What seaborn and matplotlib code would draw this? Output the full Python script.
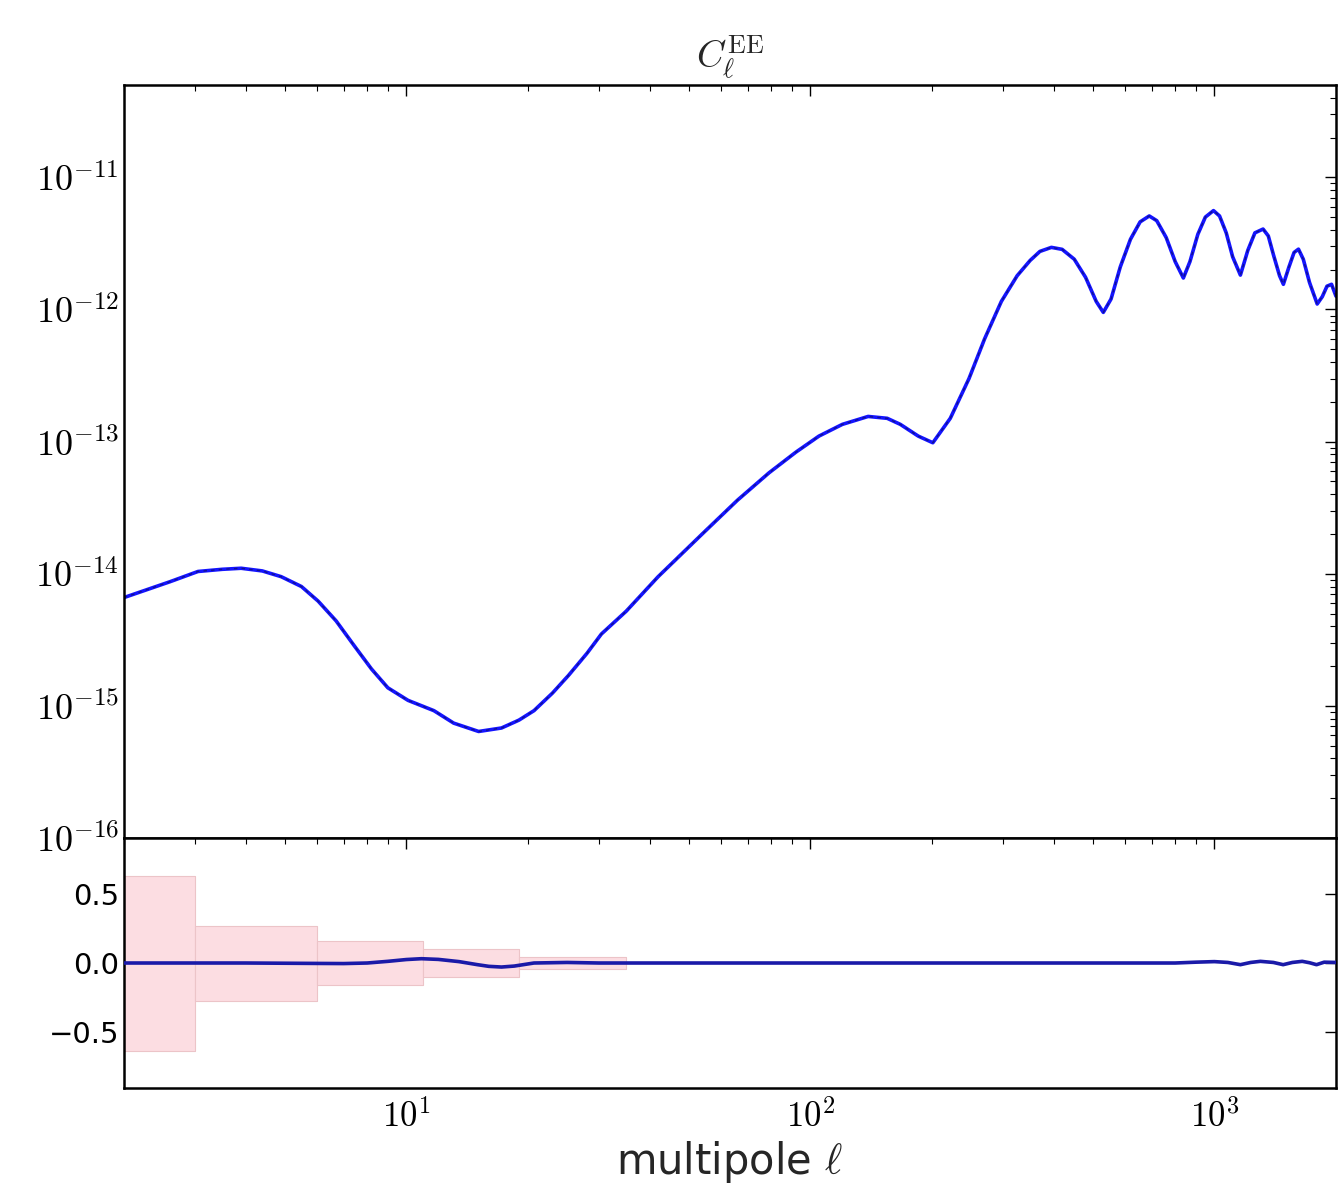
import numpy as np
import pandas as pd
import matplotlib
matplotlib.use("Agg")
import matplotlib.pyplot as plt
from matplotlib.ticker import FuncFormatter, LogLocator
import seaborn as sns

# ---------------- data ----------------
ell = [2, 2.6, 3.05, 3.5, 3.9, 4.4, 4.9, 5.5, 6.05, 6.7, 7.4, 8.2, 9.0, 10.1,
       11.7, 13.1, 15.1, 17.2, 19.0, 20.7, 23.0, 25.2, 28.0, 30.4, 35, 42, 54,
       66, 79, 92, 105, 120, 139, 155, 167, 185, 201, 222, 247, 270, 297,
       325, 350, 370, 395, 420, 450, 480, 510, 531, 555, 585, 620, 655, 690,
       720, 760, 800, 838, 870, 910, 950, 995, 1030, 1070, 1110, 1160, 1210,
       1260, 1320, 1360, 1400, 1450, 1482, 1530, 1575, 1615, 1660, 1720,
       1797, 1850, 1900, 1950, 2000]
cl_ee = [6.6e-15, 8.7e-15, 1.04e-14, 1.08e-14, 1.1e-14, 1.05e-14, 9.5e-15,
         8.0e-15, 6.2e-15, 4.4e-15, 2.9e-15, 1.9e-15, 1.37e-15, 1.1e-15,
         9.2e-16, 7.4e-16, 6.4e-16, 6.8e-16, 7.8e-16, 9.2e-16, 1.25e-15,
         1.7e-15, 2.5e-15, 3.5e-15, 5.2e-15, 9.5e-15, 2.0e-14, 3.6e-14,
         5.8e-14, 8.3e-14, 1.1e-13, 1.35e-13, 1.55e-13, 1.5e-13, 1.35e-13,
         1.1e-13, 9.8e-14, 1.5e-13, 3.0e-13, 6.0e-13, 1.15e-12, 1.8e-12,
         2.35e-12, 2.75e-12, 2.95e-12, 2.85e-12, 2.4e-12, 1.75e-12, 1.15e-12,
         9.5e-13, 1.2e-12, 2.1e-12, 3.4e-12, 4.6e-12, 5.1e-12, 4.7e-12,
         3.5e-12, 2.3e-12, 1.73e-12, 2.3e-12, 3.7e-12, 5.0e-12, 5.6e-12,
         5.1e-12, 3.8e-12, 2.5e-12, 1.82e-12, 2.8e-12, 3.8e-12, 4.06e-12,
         3.6e-12, 2.6e-12, 1.8e-12, 1.55e-12, 2.1e-12, 2.7e-12, 2.86e-12,
         2.4e-12, 1.6e-12, 1.1e-12, 1.25e-12, 1.5e-12, 1.55e-12, 1.26e-12]

res_ell = [2, 4, 6, 7, 8, 9, 10, 10.9, 12, 13.5, 15, 16, 17.2, 18.5, 20.7,
           25, 30, 50, 100, 300, 800, 900, 1000, 1080, 1160, 1230, 1300,
           1400, 1480, 1560, 1650, 1720, 1790, 1870, 2000]
res_val = [0.0, 0.0, -0.003, -0.004, 0.0, 0.012, 0.025, 0.031, 0.026, 0.01,
           -0.012, -0.024, -0.029, -0.022, 0.0, 0.004, 0.0, 0.0, 0.0, 0.0,
           0.0, 0.006, 0.01, 0.004, -0.012, 0.004, 0.012, 0.004, -0.012,
           0.004, 0.012, 0.002, -0.012, 0.006, 0.004]

bin_lo = [2, 3, 6, 11, 19]
bin_hi = [3, 6, 11, 19, 35]
bin_err = [0.63, 0.27, 0.16, 0.10, 0.045]

title_text = r"$C_\ell^{\rm EE}$"
xlabel_text = r"multipole $\ell$"

# ---------------- style ----------------
sns.set_theme(style="white")
plt.rcParams.update({
    "font.family": ["DejaVu Sans"],
    "mathtext.fontset": "cm",
    "axes.edgecolor": "black",
    "axes.linewidth": 1.8,
    "xtick.direction": "in",
    "ytick.direction": "in",
    "xtick.top": True,
    "ytick.right": True,
    "xtick.major.size": 8,
    "ytick.major.size": 8,
    "xtick.minor.size": 4,
    "ytick.minor.size": 4,
    "xtick.major.width": 1.0,
    "ytick.major.width": 1.0,
    "xtick.minor.width": 0.8,
    "ytick.minor.width": 0.8,
    "xtick.color": "black",
    "ytick.color": "black",
    "xtick.labelsize": 21,
    "ytick.labelsize": 21,
})


def pow10(v, pos):
    if v <= 0:
        return ""
    e = int(round(np.log10(v)))
    return r"$10^{%d}$" % e


fig = plt.figure(figsize=(13.4, 11.9), dpi=100)
ax1 = fig.add_axes([0.0925, 0.2958, 0.9045, 0.6328])
ax2 = fig.add_axes([0.0925, 0.0857, 0.9045, 0.2101], sharex=ax1)

df = pd.DataFrame({"ell": ell, "cl": cl_ee})
dres = pd.DataFrame({"ell": res_ell, "res": res_val})

# ---- top panel ----
sns.lineplot(data=df, x="ell", y="cl", ax=ax1, color="#1414ff", lw=2.6,
             sort=False, estimator=None)
sns.lineplot(data=df, x="ell", y="cl", ax=ax1, color="#101060", lw=1.0,
             alpha=0.7, sort=False, estimator=None)
ax1.lines[-1].set_linestyle((0, (2.5, 3)))
ax1.set_xscale("log")
ax1.set_yscale("log")
ax1.set_xlim(2, 2000)
ax1.set_ylim(1e-16, 5e-11)
ax1.set_xlabel("")
ax1.set_ylabel("")
ax1.yaxis.set_major_locator(LogLocator(base=10, numticks=12))
ax1.yaxis.set_major_formatter(FuncFormatter(pow10))
ax1.tick_params(axis="x", which="both", labelbottom=False)
ax1.tick_params(axis="y", labelsize=26)
ax1.set_title(title_text, fontsize=27, pad=12)

# ---- bottom panel ----
for lo, hi, e in zip(bin_lo, bin_hi, bin_err):
    ax2.fill_between([lo, hi], [-e, -e], [e, e], facecolor="#fcdde2",
                     edgecolor="#ecc4c8", lw=0.8, zorder=1)
sns.lineplot(data=dres, x="ell", y="res", ax=ax2, color="#1a1aa8", lw=2.6,
             sort=False, estimator=None, zorder=3)
ax2.set_xscale("log")
ax2.set_xlim(2, 2000)
ax2.set_ylim(-0.9, 0.9)
ax2.set_yticks([-0.5, 0.0, 0.5])
ax2.xaxis.set_major_formatter(FuncFormatter(pow10))
ax2.tick_params(axis="x", which="major", labelsize=25, pad=8)
ax2.set_ylabel("")
ax2.set_xlabel(xlabel_text, fontsize=30, labelpad=4)

for ax in (ax1, ax2):
    for sp in ax.spines.values():
        sp.set_visible(True)
        sp.set_color("black")

fig.savefig("out.png", dpi=100, facecolor="white")
